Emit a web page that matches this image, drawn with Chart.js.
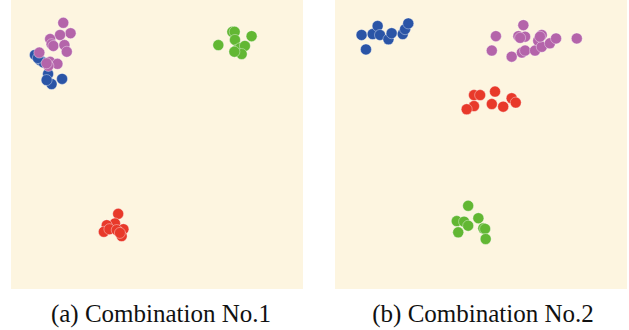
<!DOCTYPE html>
<html>
<head>
<meta charset="utf-8">
<script src="https://cdn.jsdelivr.net/npm/chart.js@4/dist/chart.umd.min.js"></script>
<style>
  html, body { margin: 0; padding: 0; background: #ffffff; }
  body { width: 629px; height: 330px; position: relative; overflow: hidden; }
  .panel { position: absolute; top: 0; width: 292px; height: 289px; }
  .cap { position: absolute; top: 299px; width: 292px; text-align: center; line-height: 30px;
         font-family: "Liberation Serif", "Times New Roman", serif; font-size: 25px; color: #111; }
</style>
</head>
<body>
<div class="panel" style="left:11px"><canvas id="c1"></canvas></div>
<div class="panel" style="left:335px"><canvas id="c2"></canvas></div>
<div class="cap" style="left:15px">(a) Combination No.1</div>
<div class="cap" style="left:337px">(b) Combination No.2</div>
<script>
// Embedding coordinates (arbitrary 0-100 units)
const seriesNames = ["Class A", "Class B", "Class C", "Class D"];

// Panel (a) Combination No.1
const a_blueX   = [8.2, 9.9, 11.1, 12.7, 13.9, 17.5, 12.2, 9.2];
const a_blueY   = [81.0, 79.2, 78.4, 74.4, 70.9, 72.7, 72.3, 79.9];
const a_purpleX = [17.9, 20.4, 16.8, 13.4, 13.9, 14.5, 18.3, 19.1, 9.7, 13.4, 15.9, 12.8, 12.2];
const a_purpleY = [92.1, 88.5, 87.9, 86.5, 84.7, 84.1, 84.4, 82.1, 81.8, 78.6, 77.9, 77.2, 78.1];
const a_greenX  = [75.8, 76.6, 82.4, 71.0, 76.7, 77.3, 78.4, 80.1, 79.0, 76.5];
const a_greenY  = [89.0, 89.0, 87.5, 84.4, 86.2, 82.7, 83.3, 84.1, 81.3, 82.1];
const a_redX    = [36.7, 35.6, 32.8, 31.8, 33.7, 38.5, 37.9, 36.2, 37.3];
const a_redY    = [26.0, 22.7, 22.1, 19.8, 20.7, 20.7, 18.3, 20.4, 19.4];

// Panel (b) Combination No.2
const b_blueX   = [9.1, 10.6, 12.9, 14.6, 15.4, 18.3, 19.4, 23.2, 24.0, 25.1];
const b_blueY   = [87.9, 82.9, 88.2, 91.0, 87.9, 86.4, 88.5, 88.2, 89.9, 91.9];
const b_purpleX = [64.5, 55.1, 62.8, 65.1, 53.7, 60.5, 64.0, 65.1, 68.5, 70.8, 69.6, 70.8, 73.6, 75.7, 82.8, 70.2, 63.4];
const b_purpleY = [91.3, 87.5, 87.5, 87.3, 82.5, 80.4, 81.8, 82.5, 82.5, 87.9, 85.9, 83.8, 85.0, 86.7, 86.7, 87.3, 86.9];
const b_redX    = [54.8, 47.6, 49.7, 60.5, 61.9, 53.7, 57.6, 47.6, 45.1];
const b_redY    = [68.3, 67.1, 67.1, 66.0, 64.5, 64.0, 63.1, 63.3, 62.2];
const b_greenX  = [45.6, 41.7, 44.2, 45.6, 49.1, 50.8, 51.4, 42.2, 51.6];
const b_greenY  = [28.8, 23.5, 23.3, 21.9, 24.5, 21.0, 20.8, 19.6, 17.3];

const colors = { blue: "#2a54a6", purple: "#b464aa", green: "#62b733", red: "#e8392a" };

function pts(xs, ys) { return xs.map((x, i) => ({ x: x, y: ys[i] })); }

const bgPlugin = {
  id: "bg",
  beforeDraw(chart) {
    const { ctx, chartArea: a } = chart;
    ctx.save();
    ctx.fillStyle = "#fdf5e0";
    ctx.fillRect(a.left, a.top, a.right - a.left, a.bottom - a.top);
    ctx.restore();
  }
};

// Chart.js draws the first dataset on top, so list top-most classes first
function ds(name, xs, ys, col) {
  return {
    label: name, data: pts(xs, ys),
    backgroundColor: col, borderColor: "rgba(255,255,255,0.55)", borderWidth: 0.7,
    pointRadius: 5.5, pointHoverRadius: 5.5
  };
}

function makeChart(id, sets) {
  new Chart(document.getElementById(id), {
    type: "scatter",
    data: { datasets: sets },
    options: {
      responsive: true, maintainAspectRatio: false, animation: false,
      layout: { padding: 0, autoPadding: false },
      plugins: { legend: { display: false }, tooltip: { enabled: false } },
      scales: {
        x: { type: "linear", min: 0, max: 100, display: false },
        y: { type: "linear", min: 0, max: 100, display: false }
      }
    },
    plugins: [bgPlugin]
  });
}

makeChart("c1", [
  ds(seriesNames[1], a_purpleX, a_purpleY, colors.purple),
  ds(seriesNames[0], a_blueX, a_blueY, colors.blue),
  ds(seriesNames[2], a_greenX, a_greenY, colors.green),
  ds(seriesNames[3], a_redX, a_redY, colors.red)
]);
makeChart("c2", [
  ds(seriesNames[1], b_purpleX, b_purpleY, colors.purple),
  ds(seriesNames[0], b_blueX, b_blueY, colors.blue),
  ds(seriesNames[3], b_redX, b_redY, colors.red),
  ds(seriesNames[2], b_greenX, b_greenY, colors.green)
]);
</script>
</body>
</html>
